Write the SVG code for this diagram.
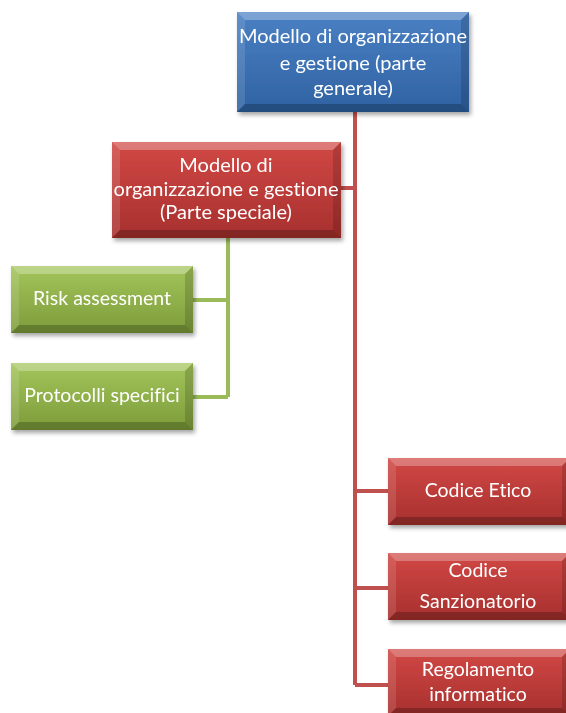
<svg xmlns="http://www.w3.org/2000/svg" width="566" height="713" viewBox="0 0 566 713">
<defs>
<linearGradient id="gBlue" x1="0" y1="0" x2="0" y2="1"><stop offset="0" stop-color="#4a80c4"/><stop offset="1" stop-color="#2f62a2"/></linearGradient>
<linearGradient id="gRed" x1="0" y1="0" x2="0" y2="1"><stop offset="0" stop-color="#d14845"/><stop offset="1" stop-color="#a7302e"/></linearGradient>
<linearGradient id="gGreen" x1="0" y1="0" x2="0" y2="1"><stop offset="0" stop-color="#a3c55b"/><stop offset="1" stop-color="#7d9c3a"/></linearGradient>
<filter id="sh" x="-10%" y="-10%" width="125%" height="135%"><feDropShadow dx="2" dy="3" stdDeviation="2" flood-color="#000" flood-opacity="0.35"/></filter>
</defs>
<style>
text{font-family:Lato,"Liberation Sans",sans-serif;fill:#ffffff;text-anchor:middle;font-variant-ligatures:none}
.big{font-size:20px}
.mid{font-size:19.5px}
.top{fill:#ffffff;fill-opacity:0.28}
.lft{fill:#ffffff;fill-opacity:0.12}
.rgt{fill:#000000;fill-opacity:0.15}
.bot{fill:#000000;fill-opacity:0.22}
.red{stroke:#c0504d;stroke-width:4;fill:none}
.grn{stroke:#9bbb59;stroke-width:4;fill:none}
</style>
<g id="connectors">
<path class="red" d="M355 112 V685 M341 188 H355 M355 491 H388 M355 588 H388 M355 685 H388"/>
<path class="grn" d="M228 238 V397 M193 300 H228 M193 397 H228"/>
</g>
<g id="n-generale" filter="url(#sh)">
<rect x="237" y="12" width="232" height="100" fill="url(#gBlue)"/>
<polygon class="top" points="237,12 469,12 461,20 245,20"/>
<polygon class="lft" points="237,12 245,20 245,104 237,112"/>
<polygon class="rgt" points="469,12 469,112 461,104 461,20"/>
<polygon class="bot" points="237,112 469,112 461,104 245,104"/>
<text class="big" x="353" y="43">Modello di organizzazione</text>
<text class="big" x="353" y="70">e gestione (parte</text>
<text class="big" x="353" y="95">generale)</text>
</g>
<g id="n-speciale" filter="url(#sh)">
<rect x="112" y="142" width="229" height="96" fill="url(#gRed)"/>
<polygon class="top" points="112,142 341,142 333,150 120,150"/>
<polygon class="lft" points="112,142 120,150 120,230 112,238"/>
<polygon class="rgt" points="341,142 341,238 333,230 333,150"/>
<polygon class="bot" points="112,238 341,238 333,230 120,230"/>
<text class="big" x="226" y="172">Modello di</text>
<text class="big" x="226" y="196">organizzazione e gestione</text>
<text class="big" x="226" y="219">(Parte speciale)</text>
</g>
<g id="n-risk" filter="url(#sh)">
<rect x="11" y="266" width="182" height="67" fill="url(#gGreen)"/>
<polygon class="top" points="11,266 193,266 185,274 19,274"/>
<polygon class="lft" points="11,266 19,274 19,325 11,333"/>
<polygon class="rgt" points="193,266 193,333 185,325 185,274"/>
<polygon class="bot" points="11,333 193,333 185,325 19,325"/>
<text class="mid" x="102" y="305">Risk assessment</text>
</g>
<g id="n-protocolli" filter="url(#sh)">
<rect x="11" y="363" width="182" height="67" fill="url(#gGreen)"/>
<polygon class="top" points="11,363 193,363 185,371 19,371"/>
<polygon class="lft" points="11,363 19,371 19,422 11,430"/>
<polygon class="rgt" points="193,363 193,430 185,422 185,371"/>
<polygon class="bot" points="11,430 193,430 185,422 19,422"/>
<text class="mid" x="102" y="402">Protocolli specifici</text>
</g>
<g id="n-etico" filter="url(#sh)">
<rect x="388" y="458" width="182" height="67" fill="url(#gRed)"/>
<polygon class="top" points="388,458 570,458 562,466 396,466"/>
<polygon class="lft" points="388,458 396,466 396,517 388,525"/>
<polygon class="rgt" points="570,458 570,525 562,517 562,466"/>
<polygon class="bot" points="388,525 570,525 562,517 396,517"/>
<text class="mid" x="478" y="497">Codice Etico</text>
</g>
<g id="n-sanzionatorio" filter="url(#sh)">
<rect x="388" y="553" width="182" height="67" fill="url(#gRed)"/>
<polygon class="top" points="388,553 570,553 562,561 396,561"/>
<polygon class="lft" points="388,553 396,561 396,612 388,620"/>
<polygon class="rgt" points="570,553 570,620 562,612 562,561"/>
<polygon class="bot" points="388,620 570,620 562,612 396,612"/>
<text class="mid" x="478" y="577">Codice</text>
<text class="mid" x="478" y="608">Sanzionatorio</text>
</g>
<g id="n-regolamento" filter="url(#sh)">
<rect x="388" y="649" width="182" height="67" fill="url(#gRed)"/>
<polygon class="top" points="388,649 570,649 562,657 396,657"/>
<polygon class="lft" points="388,649 396,657 396,708 388,716"/>
<polygon class="rgt" points="570,649 570,716 562,708 562,657"/>
<polygon class="bot" points="388,716 570,716 562,708 396,708"/>
<text class="mid" x="478" y="676">Regolamento</text>
<text class="mid" x="478" y="701">informatico</text>
</g>
</svg>
